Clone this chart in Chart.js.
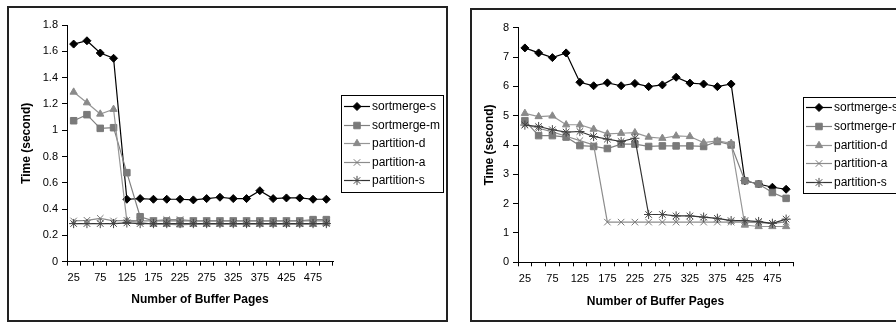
<!DOCTYPE html>
<html>
<head>
<meta charset="utf-8">
<script src="https://cdn.jsdelivr.net/npm/chart.js@4"></script>
<style>
html, body { margin: 0; padding: 0; background: #fff; overflow: hidden; width: 896px; height: 323px; }
.box { position: absolute; border: 2px solid #222; background: #fff; }
#boxL { left: 7px; top: 6px; width: 437px; height: 312px; }
#boxR { left: 470px; top: 8px; width: 437px; height: 310px; }
canvas { display: block; }
</style>
</head>
<body>
<div class="box" id="boxL"><canvas id="left" width="437" height="312"></canvas></div>
<div class="box" id="boxR"><canvas id="right" width="437" height="310"></canvas></div>
<script>
'use strict';

// buffer pages (x categories)
const pages = ['25','50','75','100','125','150','175','200','225','250',
               '275','300','325','350','375','400','425','450','475','500'];

const seriesNames = ['sortmerge-s', 'sortmerge-m', 'partition-d', 'partition-a', 'partition-s'];

// left chart (seconds)
const leftSortmergeS = [1.655, 1.68, 1.587, 1.547, 0.475, 0.48, 0.475, 0.475, 0.475, 0.47,
                        0.48, 0.49, 0.48, 0.48, 0.54, 0.48, 0.485, 0.485, 0.475, 0.475];
const leftSortmergeM = [1.072, 1.118, 1.014, 1.019, 0.677, 0.342, 0.31, 0.31, 0.31, 0.31,
                        0.31, 0.31, 0.31, 0.31, 0.31, 0.31, 0.31, 0.31, 0.32, 0.32];
const leftPartitionD = [1.29, 1.209, 1.123, 1.159, 0.31, 0.30, 0.285, 0.285, 0.28, 0.285,
                        0.285, 0.285, 0.285, 0.285, 0.285, 0.285, 0.285, 0.285, 0.285, 0.29];
const leftPartitionA = [0.31, 0.315, 0.33, 0.31, 0.315, 0.31, 0.31, 0.32, 0.32, 0.31,
                        0.31, 0.31, 0.31, 0.31, 0.31, 0.31, 0.31, 0.31, 0.31, 0.31];
const leftPartitionS = [0.29, 0.29, 0.29, 0.29, 0.295, 0.29, 0.29, 0.29, 0.29, 0.29,
                        0.29, 0.29, 0.29, 0.29, 0.29, 0.29, 0.29, 0.29, 0.29, 0.29];

// right chart (seconds)
const rightSortmergeS = [7.31, 7.14, 6.98, 7.14, 6.14, 6.02, 6.12, 6.02, 6.1, 5.99,
                         6.05, 6.31, 6.11, 6.08, 5.99, 6.08, 2.78, 2.67, 2.56, 2.49];
const rightSortmergeM = [4.83, 4.32, 4.32, 4.27, 3.98, 3.95, 3.88, 4.03, 4.03, 3.95,
                         3.97, 3.97, 3.97, 3.95, 4.12, 4.0, 2.78, 2.67, 2.38, 2.18];
const rightPartitionD = [5.08, 4.97, 4.99, 4.69, 4.69, 4.54, 4.38, 4.40, 4.42, 4.27,
                         4.23, 4.31, 4.29, 4.08, 4.14, 4.06, 1.27, 1.22, 1.22, 1.22];
const rightPartitionA = [4.7, 4.57, 4.45, 4.3, 4.15, 4.0, 1.37, 1.37, 1.37, 1.37,
                         1.37, 1.37, 1.37, 1.37, 1.37, 1.37, 1.37, 1.35, 1.33, 1.38];
const rightPartitionS = [4.68, 4.63, 4.52, 4.44, 4.46, 4.29, 4.2, 4.12, 4.23, 1.63,
                         1.63, 1.58, 1.58, 1.54, 1.5, 1.42, 1.42, 1.39, 1.33, 1.47];

const FONT = '"Liberation Sans", Arial, sans-serif';

const styles = [
    { line: '#000000', fill: '#000000', stroke: '#000000', shape: 'rectRot',  r: 4 },
    { line: '#808080', fill: '#7a7a7a', stroke: '#7a7a7a', shape: 'rect',     r: 4.6 },
    { line: '#969696', fill: '#8a8a8a', stroke: '#8a8a8a', shape: 'triangle', r: 4.2 },
    { line: '#8c8c8c', fill: '#7a7a7a', stroke: '#7a7a7a', shape: 'crossRot', r: 4.6 },
    { line: '#333333', fill: '#444444', stroke: '#444444', shape: 'star',     r: 4.6 }
];

const legendBox = {
    id: 'legendBox',
    afterDraw(chart, args, opts) {
        const ctx = chart.ctx;
        ctx.save();
        ctx.lineWidth = 1;
        ctx.strokeStyle = '#000';
        ctx.strokeRect(opts.x + 0.5, opts.y + 0.5, opts.w, opts.h);
        ctx.font = '12px ' + FONT;
        ctx.textBaseline = 'middle';
        chart.data.datasets.forEach((ds, i) => {
            const y = Math.round(opts.y + opts.first + i * opts.step) + 0.5;
            ctx.strokeStyle = ds.borderColor;
            ctx.lineWidth = ds.borderWidth;
            ctx.beginPath();
            ctx.moveTo(opts.x + 3, y);
            ctx.lineTo(opts.x + 29, y);
            ctx.stroke();
            ctx.fillStyle = ds.pointBackgroundColor;
            ctx.strokeStyle = ds.pointBorderColor;
            ctx.lineWidth = 1;
            Chart.helpers.drawPoint(ctx, { pointStyle: ds.pointStyle, radius: ds.pointRadius, borderWidth: 1, rotation: 0 }, opts.x + 16, y);
            ctx.fillStyle = '#000';
            ctx.fillText(ds.label, opts.x + 31, y);
        });
        ctx.restore();
    }
};

function makeChart(id, values, yMax, yStep, area, legend) {
    const datasets = values.map((v, i) => ({
        label: seriesNames[i],
        data: v,
        borderColor: styles[i].line,
        borderWidth: 1.2,
        pointStyle: styles[i].shape,
        pointRadius: styles[i].r,
        pointBackgroundColor: styles[i].fill,
        pointBorderColor: styles[i].stroke,
        pointBorderWidth: 1,
        tension: 0,
        order: 4 - i
    }));

    return new Chart(document.getElementById(id), {
        type: 'line',
        data: { labels: pages, datasets: datasets },
        plugins: [legendBox],
        options: {
            responsive: false,
            animation: false,
            devicePixelRatio: 1,
            layout: { padding: { left: 0, top: area.top, right: area.right, bottom: 0 } },
            plugins: {
                legend: { display: false },
                tooltip: { enabled: false },
                legendBox: legend
            },
            scales: {
                x: {
                    offset: true,
                    grid: { offset: true, drawOnChartArea: false, drawTicks: true, tickLength: 4, color: '#000', lineWidth: 1 },
                    border: { display: true, color: '#000', width: 1 },
                    ticks: {
                        autoSkip: false, maxRotation: 0, padding: 6, color: '#000',
                        font: { family: FONT, size: 11 },
                        callback: (v, i) => i % 2 === 0 ? pages[i] : ''
                    },
                    title: {
                        display: true, text: 'Number of Buffer Pages', color: '#000',
                        font: { family: FONT, size: 12, weight: 'bold' },
                        padding: { top: 0, bottom: area.xTitlePad }
                    },
                    afterFit: s => { s.height = area.bottom; }
                },
                y: {
                    min: 0, max: yMax,
                    grid: { drawOnChartArea: false, drawTicks: true, tickLength: 5, color: '#000', lineWidth: 1 },
                    border: { display: true, color: '#000', width: 1 },
                    ticks: {
                        stepSize: yStep, padding: 4, color: '#000',
                        font: { family: FONT, size: 11 },
                        callback: v => String(Math.round(v * 10) / 10)
                    },
                    title: {
                        display: true, text: 'Time (second)', color: '#000',
                        font: { family: FONT, size: 12, weight: 'bold' },
                        padding: { top: 10.5, bottom: 0 }
                    },
                    afterFit: s => { s.width = area.left; }
                }
            }
        }
    });
}

makeChart('left',
    [leftSortmergeS, leftSortmergeM, leftPartitionD, leftPartitionA, leftPartitionS],
    1.8, 0.2,
    { left: 58, top: 17, right: 113, bottom: 58.3, xTitlePad: 12.8 },
    { x: 332, y: 87, w: 102, h: 97, first: 11, step: 18.5 });

makeChart('right',
    [rightSortmergeS, rightSortmergeM, rightPartitionD, rightPartitionA, rightPartitionS],
    8, 1,
    { left: 46, top: 17.7, right: 116, bottom: 57.7, xTitlePad: 11.1 },
    { x: 331, y: 87, w: 104, h: 96, first: 10, step: 18.8 });
</script>
</body>
</html>
